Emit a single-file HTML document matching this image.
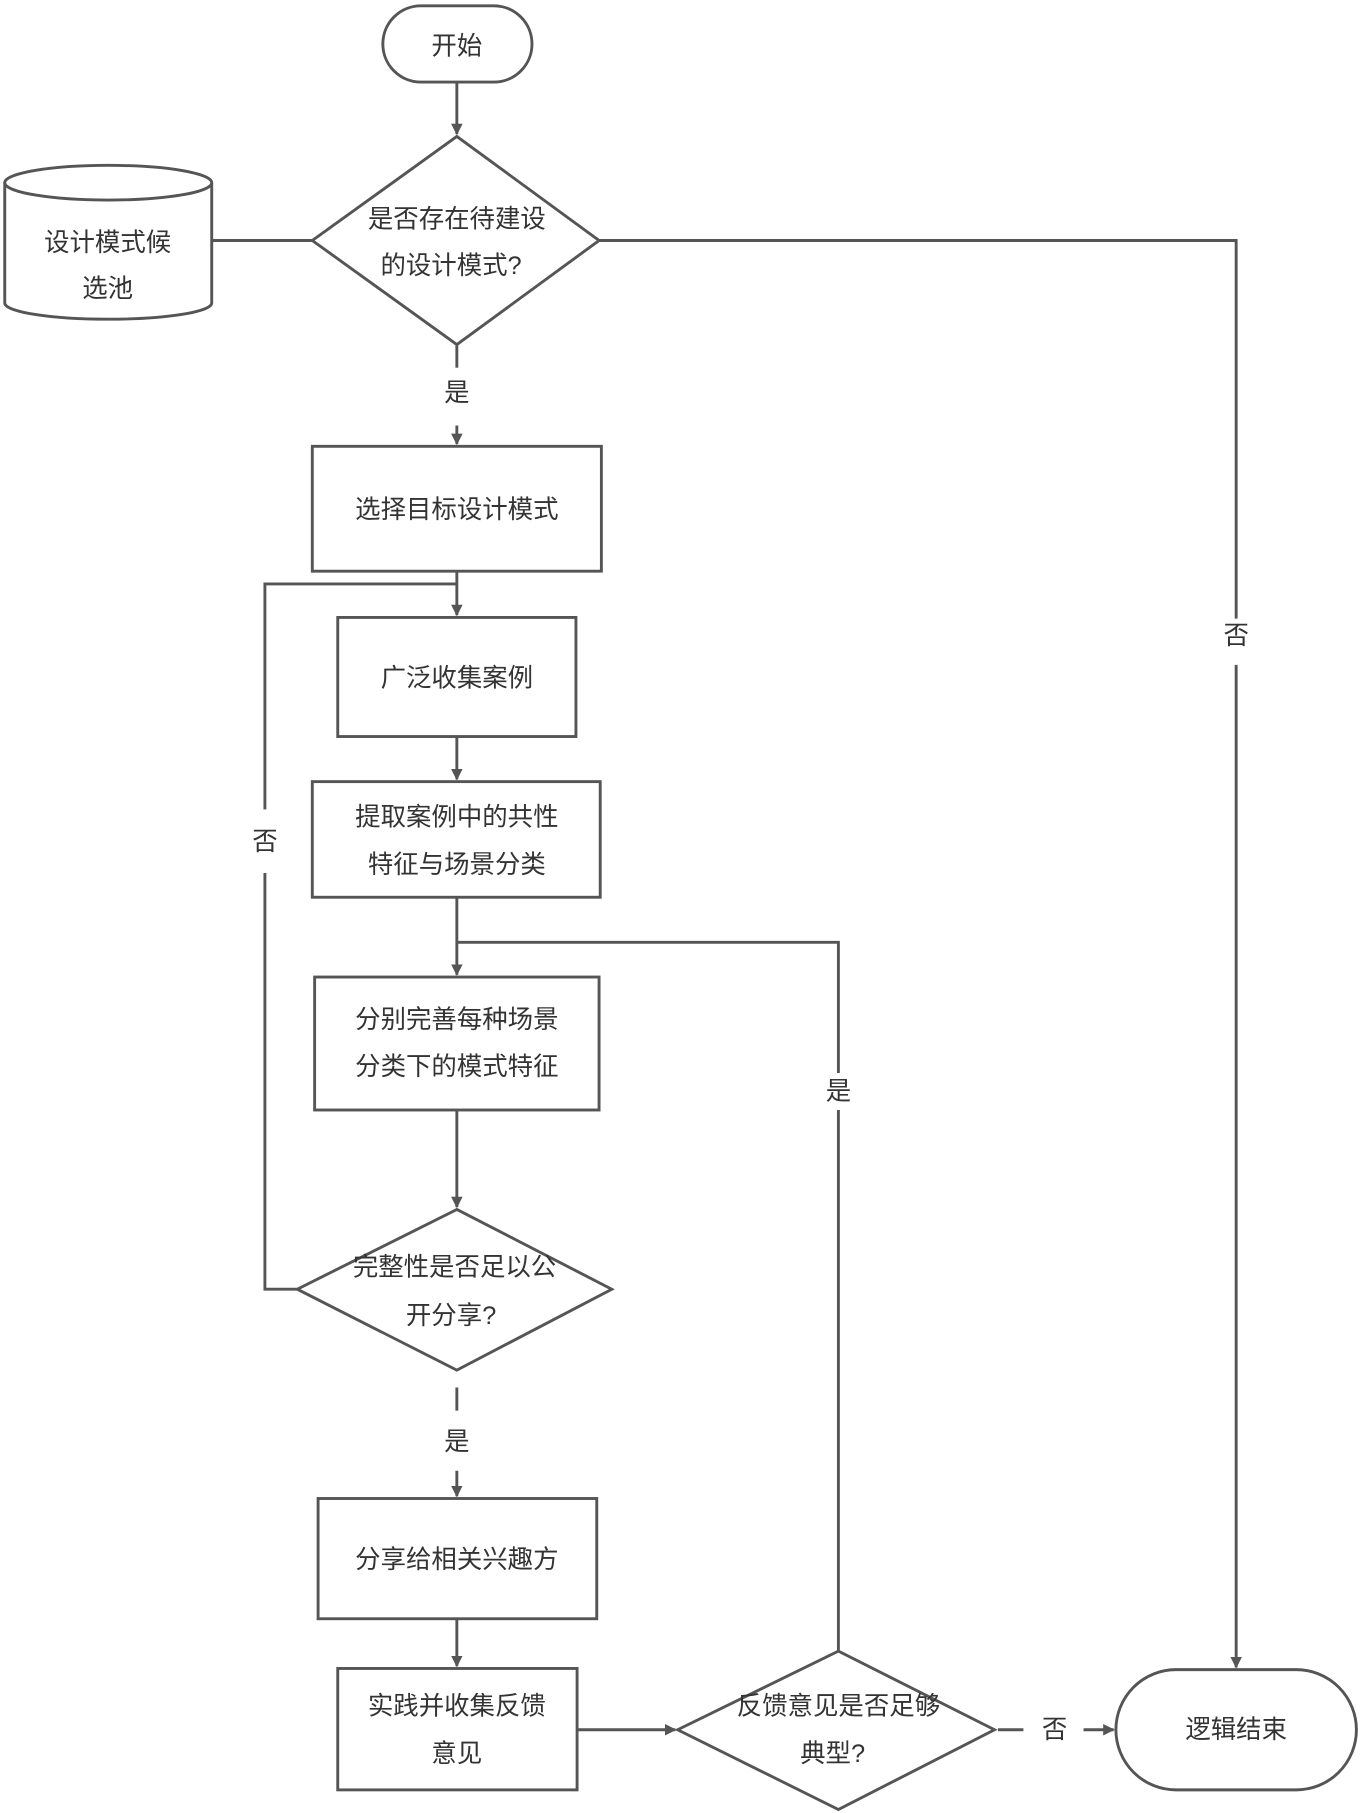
<!DOCTYPE html>
<html><head><meta charset="utf-8"><style>
html,body{margin:0;padding:0;background:#fff}
svg{display:block}
text{font-family:"Liberation Sans","Noto Sans CJK SC",sans-serif;font-size:22px;fill:#333;text-anchor:middle;dominant-baseline:central}
</style></head><body>
<svg width="1360" height="1813" viewBox="0 0 1176 1568" xmlns="http://www.w3.org/2000/svg">
<defs><marker id="a" markerWidth="10" markerHeight="10" refX="9" refY="5" orient="auto" markerUnits="userSpaceOnUse"><path d="M0,0 L10,5 L0,10 z" fill="#555"/></marker></defs>
<g stroke="#555" stroke-width="2.5" fill="none">
<rect x="331" y="5" width="129" height="66" rx="33" fill="#fff"/>
<line x1="395" y1="71" x2="395" y2="116" marker-end="url(#a)"/>
<polygon points="395,118 518,208 395,298 270,208" fill="#fff"/>
<path d="M4,158 L4,262 A89,14 0 0 0 183,262 L183,158" fill="#fff"/>
<ellipse cx="93.5" cy="158" rx="89.5" ry="15" fill="#fff"/>
<line x1="183" y1="208" x2="270" y2="208"/>
<path d="M518,208 L1069,208 L1069,535"/>
<line x1="1069" y1="575" x2="1069" y2="1442" marker-end="url(#a)"/>
<line x1="395" y1="298" x2="395" y2="318"/>
<line x1="395" y1="368" x2="395" y2="384" marker-end="url(#a)"/>
<rect x="270" y="386" width="250" height="108" fill="#fff"/>
<line x1="395" y1="494" x2="395" y2="532" marker-end="url(#a)"/>
<path d="M257,1115 L229,1115 L229,755"/>
<path d="M229,700 L229,505 L395,505"/>
<rect x="292" y="534" width="206" height="103" fill="#fff"/>
<line x1="395" y1="637" x2="395" y2="674" marker-end="url(#a)"/>
<rect x="270" y="676" width="249" height="100" fill="#fff"/>
<line x1="395" y1="776" x2="395" y2="843" marker-end="url(#a)"/>
<path d="M725,1428 L725,960"/>
<path d="M725,928 L725,815 L395,815"/>
<rect x="272" y="845" width="246" height="115" fill="#fff"/>
<line x1="395" y1="960" x2="395" y2="1044" marker-end="url(#a)"/>
<polygon points="395,1046 529,1115 395,1185 257,1115" fill="#fff"/>
<line x1="395" y1="1200" x2="395" y2="1220"/>
<line x1="395" y1="1272" x2="395" y2="1294" marker-end="url(#a)"/>
<rect x="275" y="1296" width="241" height="104" fill="#fff"/>
<line x1="395" y1="1400" x2="395" y2="1441" marker-end="url(#a)"/>
<rect x="292" y="1443" width="207" height="105" fill="#fff"/>
<line x1="499" y1="1496" x2="584" y2="1496" marker-end="url(#a)"/>
<polygon points="725,1428 860,1496 725,1565 586,1496" fill="#fff"/>
<line x1="863" y1="1496" x2="885" y2="1496"/>
<line x1="937" y1="1496" x2="963" y2="1496" marker-end="url(#a)"/>
<rect x="965" y="1444" width="208" height="104" rx="52" fill="#fff"/>
</g>
<text x="395" y="40">开始</text>
<text x="395" y="190">是否存在待建设</text>
<text x="390" y="230">的设计模式?</text>
<text x="93" y="210">设计模式候</text>
<text x="93" y="250">选池</text>
<text x="395" y="340">是</text>
<text x="1069" y="550">否</text>
<text x="395" y="441">选择目标设计模式</text>
<text x="229" y="728">否</text>
<text x="395" y="587">广泛收集案例</text>
<text x="395" y="707">提取案例中的共性</text>
<text x="395" y="748">特征与场景分类</text>
<text x="395" y="882">分别完善每种场景</text>
<text x="395" y="923">分类下的模式特征</text>
<text x="725" y="944">是</text>
<text x="393" y="1096">完整性是否足以公</text>
<text x="390" y="1138">开分享?</text>
<text x="395" y="1247">是</text>
<text x="395" y="1349">分享给相关兴趣方</text>
<text x="395" y="1476">实践并收集反馈</text>
<text x="395" y="1517">意见</text>
<text x="725" y="1476">反馈意见是否足够</text>
<text x="720" y="1517">典型?</text>
<text x="912" y="1496">否</text>
<text x="1069" y="1496">逻辑结束</text>
</svg>
</body></html>
